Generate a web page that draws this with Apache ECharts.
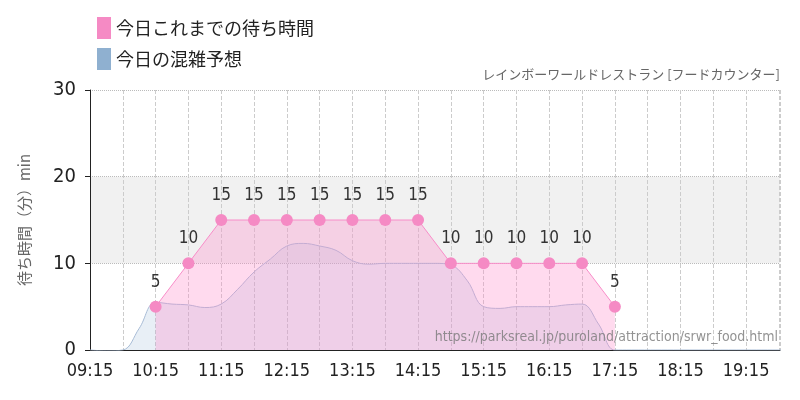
<!DOCTYPE html><html><head><meta charset="utf-8"><script src="https://cdn.jsdelivr.net/npm/echarts@6/dist/echarts.min.js"></script></head><body style="margin:0"><div id="c" style="width:800px;height:400px"></div><script>
const actualMin=[60,90,120,150,180,210,240,270,300,330,360,390,420,450,480];
const actualVal=[5,10,15,15,15,15,15,15,15,10,10,10,10,10,5];
const fcMin=[0,15,30,45,60,75,90,105,120,135,150,165,180,195,210,225,240,255,270,285,300,315,330,345,360,375,390,405,420,435,450,465,480,495,540,600,660];
const fcVal=[0,-0.1,0,2.5,5.5,5.3,5.2,4.9,5.3,7,9,10.5,12,12.3,12,11.5,10.3,9.9,10,10,10,10,9.8,8,5,4.8,5,5,5,5.2,5.3,3,0,0,0,0,0];
const tickLabels=['09:15','10:15','11:15','12:15','13:15','14:15','15:15','16:15','17:15','18:15','19:15'];
const F='DejaVu Sans Condensed, Liberation Sans Narrow, sans-serif';
const ch=echarts.init(document.getElementById('c'));
ch.setOption({animation:false,
legend:{orient:'vertical',left:92,top:12,itemWidth:14,itemHeight:22,itemGap:9,icon:'rect',textStyle:{fontSize:18,color:'#222',fontFamily:'Noto Sans CJK JP'},data:['今日これまでの待ち時間','今日の混雑予想']},
graphic:[{type:'text',right:20,top:68,style:{text:'レインボーワールドレストラン [フードカウンター]',fontSize:13,fill:'#666',fontFamily:'Noto Sans CJK JP'}},
{type:'text',right:22,top:330,z:100,style:{text:'https://parksreal.jp/puroland/attraction/srwr_food.html',fontSize:14,fill:'rgba(120,120,120,0.8)',fontFamily:'DejaVu Sans Condensed'}}],
grid:{left:90,right:20,top:90,bottom:50},
xAxis:{type:'value',min:0,max:631,interval:30,axisLine:{lineStyle:{color:'#222'}},axisTick:{show:false},
axisLabel:{fontSize:18,color:'#222',fontFamily:F,margin:12,showMaxLabel:false,formatter:v=>v%60===0?tickLabels[v/60]:''},
splitLine:{show:true,lineStyle:{type:'dashed',color:'#ccc'}}},
yAxis:{type:'value',min:0,max:30,interval:10,name:'待ち時間（分）min',nameLocation:'middle',nameGap:58,nameTextStyle:{fontSize:15,color:'#666',fontFamily:'Noto Sans CJK JP'},
axisLine:{show:true,lineStyle:{color:'#222'}},axisLabel:{fontSize:20,color:'#222',fontFamily:F,margin:14},
splitLine:{lineStyle:{type:'dotted',color:'#bbb'}},splitArea:{show:true,areaStyle:{color:['rgba(255,255,255,0)','rgba(235,235,235,0.7)','rgba(255,255,255,0)']}}},
series:[
{name:'今日これまでの待ち時間',type:'line',data:actualMin.map((m,i)=>[m,actualVal[i]]),z:3,symbol:'circle',symbolSize:12,
itemStyle:{color:'#f58ac4'},lineStyle:{color:'#f88cc8',width:1},areaStyle:{color:'rgba(255,140,200,0.45)'},
label:{show:true,position:'top',distance:10,fontSize:17,color:'#333',fontFamily:F}},
{name:'今日の混雑予想',type:'line',data:fcMin.map((m,i)=>[m,fcVal[i]]),smooth:0.4,z:2,symbol:'none',
itemStyle:{color:'#8fb0d0'},lineStyle:{color:'#a8bcd6',width:1},areaStyle:{color:'rgba(160,190,220,0.35)'}}
]});
</script></body></html>
